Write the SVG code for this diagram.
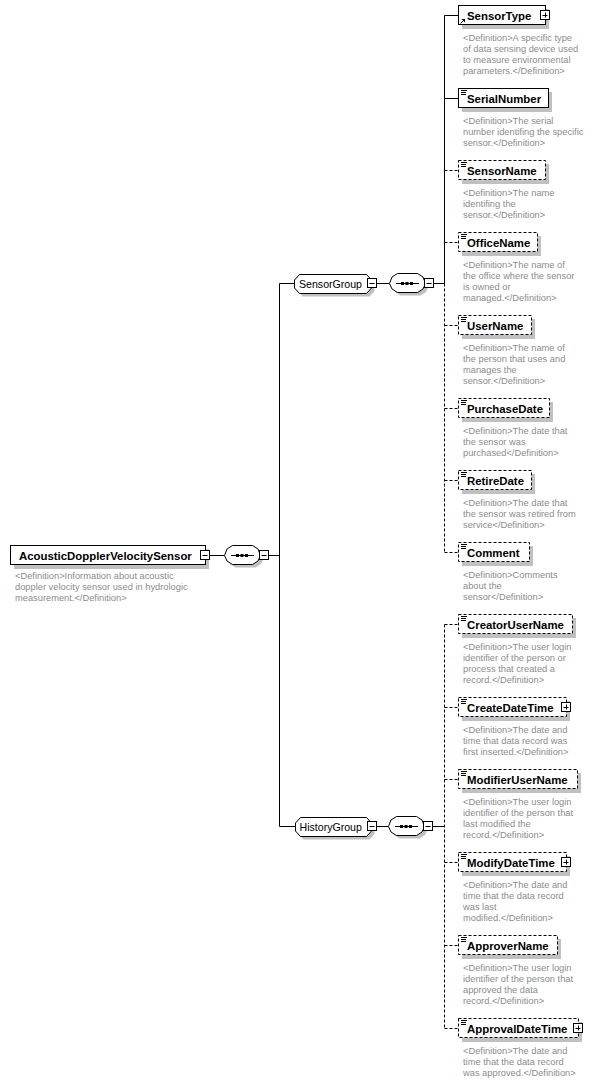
<svg xmlns="http://www.w3.org/2000/svg" xmlns:xlink="http://www.w3.org/1999/xlink" width="593" height="1083" viewBox="0 0 593 1083">
<style>
.bg{fill:#fff}
.box{fill:#fff;stroke:#000;stroke-width:1}
.opt{stroke-dasharray:3 2}
.sh{fill:#c0c0c0}
.lbl{font-family:"Liberation Sans",Arial,sans-serif;font-weight:bold;font-size:11.4px;fill:#000}
.grp{font-family:"Liberation Sans",Arial,sans-serif;font-size:10.6px;fill:#000}
.def{font-family:"Liberation Sans",Arial,sans-serif;font-size:9.3px;fill:#8c8c8c}
.con{stroke:#000;stroke-width:1;fill:none}
.dash{stroke-dasharray:3 2}
.pm{fill:#fff;stroke:#000;stroke-width:1}
.ico{fill:#000}
</style>
<defs>
<g id="minus"><rect class="pm" x="0.5" y="0.5" width="9" height="9"/><path class="con" d="M2.5,5.5 H7.5"/></g>
<g id="plus"><rect class="pm" x="0.5" y="0.5" width="9" height="9"/><path class="con" d="M2.5,5.5 H7.5 M5.5,2.5 V7.5"/></g>
<g id="seq">
<path class="sh" d="M11.5,-6.5 H31.5 L37,-3 L39.5,3.5 L37,9 L31.5,12.5 H11.5 L6,9 L3.5,3.5 L6,-3 Z"/>
<path class="box" d="M8.5,-9.5 H28.5 L34,-6 L36.5,0.5 L34,6 L28.5,9.5 H8.5 L3,6 L0.5,0.5 L3,-6 Z"/>
<path class="con" d="M7,0.5 H30"/>
<rect class="ico" x="12" y="-1" width="3" height="3"/>
<rect class="ico" x="16.5" y="-1" width="3" height="3"/>
<rect class="ico" x="21" y="-1" width="3" height="3"/>
<use xlink:href="#minus" x="35" y="-5"/>
</g>
<g id="sicon"><rect class="ico" x="461" y="0" width="6" height="1"/><rect class="ico" x="461" y="2" width="5" height="1"/><rect class="ico" x="461" y="4" width="5" height="1"/></g>
</defs>
<rect class="bg" x="0" y="0" width="593" height="1083"/>

<g id="connectors">
<path class="con" d="M210,555.5 H224"/>
<path class="con" d="M269,555.5 H279.5"/>
<path class="con" d="M279.5,283.5 V826.5"/>
<path class="con" d="M279.5,283.5 H294"/>
<path class="con" d="M279.5,826.5 H295"/>
<path class="con" d="M376,283.5 H389"/>
<path class="con" d="M376,826.5 H388"/>
<path class="con" d="M434,283.5 H444.5"/>
<path class="con" d="M433,826.5 H444.5"/>
<path class="con" d="M444.5,15.5 V283.5"/>
<path class="con dash" d="M444.5,283.5 V552.5"/>
<path class="con" d="M444.5,15.5 H458"/>
<path class="con" d="M444.5,98.5 H458"/>
<path class="con dash" d="M444.5,170.5 H458"/>
<path class="con dash" d="M444.5,242.5 H458"/>
<path class="con dash" d="M444.5,325.5 H458"/>
<path class="con dash" d="M444.5,408.5 H458"/>
<path class="con dash" d="M444.5,480.5 H458"/>
<path class="con dash" d="M444.5,552.5 H458"/>
<path class="con dash" d="M444.5,624.5 V1028.5"/>
<path class="con dash" d="M444.5,624.5 H458"/>
<path class="con dash" d="M444.5,707.5 H458"/>
<path class="con dash" d="M444.5,779.5 H458"/>
<path class="con dash" d="M444.5,862.5 H458"/>
<path class="con dash" d="M444.5,945.5 H458"/>
<path class="con dash" d="M444.5,1028.5 H458"/>
</g>

<g id="AcousticDopplerVelocitySensor">
<rect class="sh" x="14" y="549" width="195" height="20"/>
<rect class="box" x="10.5" y="545.5" width="195" height="19"/>
<text class="lbl" x="19" y="560">AcousticDopplerVelocitySensor</text>
<use xlink:href="#minus" x="200" y="550"/>
<text class="def" x="15" y="579"><tspan x="15">&lt;Definition&gt;Information about acoustic</tspan><tspan x="15" dy="11">doppler velocity sensor used in hydrologic</tspan><tspan x="15" dy="11">measurement.&lt;/Definition&gt;</tspan></text>
</g>
<g id="seq_root"><use xlink:href="#seq" x="224" y="555"/></g>

<g id="SensorGroup">
<path class="sh" d="M302.5,277.5 H369.5 L374.5,283 V291 L369.5,296.5 H302.5 L297.5,291 V283 Z"/>
<path class="box" d="M299.5,274.5 H366.5 L371.5,280 V288 L366.5,293.5 H299.5 L294.5,288 V280 Z"/>
<text class="grp" x="299" y="287.5">SensorGroup</text>
<use xlink:href="#minus" x="367" y="278"/>
</g>
<g id="seq_sensor"><use xlink:href="#seq" x="389" y="283"/></g>

<g id="HistoryGroup">
<path class="sh" d="M303.5,820.5 H369.5 L374.5,826 V834 L369.5,839.5 H303.5 L298.5,834 V826 Z"/>
<path class="box" d="M300.5,817.5 H366.5 L371.5,823 V831 L366.5,836.5 H300.5 L295.5,831 V823 Z"/>
<text class="grp" x="299.5" y="830.5">HistoryGroup</text>
<use xlink:href="#minus" x="367" y="821"/>
</g>
<g id="seq_history"><use xlink:href="#seq" x="388" y="826"/></g>

<g id="SensorType">
<rect class="sh" x="462" y="9" width="87" height="20"/>
<rect class="box" x="458.5" y="5.5" width="87" height="19"/>
<path class="con" d="M460.5,23.5 L463,21"/>
<polygon class="ico" points="461.5,19 465,19 465,22.5"/>
<text class="lbl" x="467" y="20">SensorType</text>
<use xlink:href="#plus" x="540" y="10"/>
<text class="def" x="463" y="41"><tspan x="463">&lt;Definition&gt;A specific type</tspan><tspan x="463" dy="11">of data sensing device used</tspan><tspan x="463" dy="11">to measure environmental</tspan><tspan x="463" dy="11">parameters.&lt;/Definition&gt;</tspan></text>
</g>

<g id="SerialNumber">
<rect class="sh" x="462" y="92" width="90" height="20"/>
<rect class="box" x="458.5" y="88.5" width="90" height="19"/>
<use xlink:href="#sicon" y="90"/>
<text class="lbl" x="467" y="103">SerialNumber</text>
<text class="def" x="463" y="124"><tspan x="463">&lt;Definition&gt;The serial</tspan><tspan x="463" dy="11">number identifing the specific</tspan><tspan x="463" dy="11">sensor.&lt;/Definition&gt;</tspan></text>
</g>

<g id="SensorName">
<rect class="sh" x="462" y="164" width="87" height="20"/>
<rect class="box opt" x="458.5" y="160.5" width="87" height="19"/>
<use xlink:href="#sicon" y="162"/>
<text class="lbl" x="467" y="175">SensorName</text>
<text class="def" x="463" y="196"><tspan x="463">&lt;Definition&gt;The name</tspan><tspan x="463" dy="11">identifing the</tspan><tspan x="463" dy="11">sensor.&lt;/Definition&gt;</tspan></text>
</g>

<g id="OfficeName">
<rect class="sh" x="462" y="236" width="79" height="20"/>
<rect class="box opt" x="458.5" y="232.5" width="79" height="19"/>
<use xlink:href="#sicon" y="234"/>
<text class="lbl" x="467" y="247">OfficeName</text>
<text class="def" x="463" y="268"><tspan x="463">&lt;Definition&gt;The name of</tspan><tspan x="463" dy="11">the office where the sensor</tspan><tspan x="463" dy="11">is owned or</tspan><tspan x="463" dy="11">managed.&lt;/Definition&gt;</tspan></text>
</g>

<g id="UserName">
<rect class="sh" x="462" y="319" width="73" height="20"/>
<rect class="box opt" x="458.5" y="315.5" width="73" height="19"/>
<use xlink:href="#sicon" y="317"/>
<text class="lbl" x="467" y="330">UserName</text>
<text class="def" x="463" y="351"><tspan x="463">&lt;Definition&gt;The name of</tspan><tspan x="463" dy="11">the person that uses and</tspan><tspan x="463" dy="11">manages the</tspan><tspan x="463" dy="11">sensor.&lt;/Definition&gt;</tspan></text>
</g>

<g id="PurchaseDate">
<rect class="sh" x="462" y="402" width="91" height="20"/>
<rect class="box opt" x="458.5" y="398.5" width="91" height="19"/>
<use xlink:href="#sicon" y="400"/>
<text class="lbl" x="467" y="413">PurchaseDate</text>
<text class="def" x="463" y="434"><tspan x="463">&lt;Definition&gt;The date that</tspan><tspan x="463" dy="11">the sensor was</tspan><tspan x="463" dy="11">purchased&lt;/Definition&gt;</tspan></text>
</g>

<g id="RetireDate">
<rect class="sh" x="462" y="474" width="73" height="20"/>
<rect class="box opt" x="458.5" y="470.5" width="73" height="19"/>
<use xlink:href="#sicon" y="472"/>
<text class="lbl" x="467" y="485">RetireDate</text>
<text class="def" x="463" y="506"><tspan x="463">&lt;Definition&gt;The date that</tspan><tspan x="463" dy="11">the sensor was retired from</tspan><tspan x="463" dy="11">service&lt;/Definition&gt;</tspan></text>
</g>

<g id="Comment">
<rect class="sh" x="462" y="546" width="71" height="20"/>
<rect class="box opt" x="458.5" y="542.5" width="71" height="19"/>
<use xlink:href="#sicon" y="544"/>
<text class="lbl" x="467" y="557">Comment</text>
<text class="def" x="463" y="578"><tspan x="463">&lt;Definition&gt;Comments</tspan><tspan x="463" dy="11">about the</tspan><tspan x="463" dy="11">sensor&lt;/Definition&gt;</tspan></text>
</g>

<g id="CreatorUserName">
<rect class="sh" x="462" y="618" width="114" height="20"/>
<rect class="box opt" x="458.5" y="614.5" width="114" height="19"/>
<use xlink:href="#sicon" y="616"/>
<text class="lbl" x="467" y="629">CreatorUserName</text>
<text class="def" x="463" y="650"><tspan x="463">&lt;Definition&gt;The user login</tspan><tspan x="463" dy="11">identifier of the person or</tspan><tspan x="463" dy="11">process that created a</tspan><tspan x="463" dy="11">record.&lt;/Definition&gt;</tspan></text>
</g>

<g id="CreateDateTime">
<rect class="sh" x="462" y="701" width="108" height="20"/>
<rect class="box opt" x="458.5" y="697.5" width="108" height="19"/>
<use xlink:href="#sicon" y="699"/>
<text class="lbl" x="467" y="712">CreateDateTime</text>
<use xlink:href="#plus" x="561" y="702"/>
<text class="def" x="463" y="733"><tspan x="463">&lt;Definition&gt;The date and</tspan><tspan x="463" dy="11">time that data record was</tspan><tspan x="463" dy="11">first inserted.&lt;/Definition&gt;</tspan></text>
</g>

<g id="ModifierUserName">
<rect class="sh" x="462" y="773" width="119" height="20"/>
<rect class="box opt" x="458.5" y="769.5" width="119" height="19"/>
<use xlink:href="#sicon" y="771"/>
<text class="lbl" x="467" y="784">ModifierUserName</text>
<text class="def" x="463" y="805"><tspan x="463">&lt;Definition&gt;The user login</tspan><tspan x="463" dy="11">identifier of the person that</tspan><tspan x="463" dy="11">last modified the</tspan><tspan x="463" dy="11">record.&lt;/Definition&gt;</tspan></text>
</g>

<g id="ModifyDateTime">
<rect class="sh" x="462" y="856" width="108" height="20"/>
<rect class="box opt" x="458.5" y="852.5" width="108" height="19"/>
<use xlink:href="#sicon" y="854"/>
<text class="lbl" x="467" y="867">ModifyDateTime</text>
<use xlink:href="#plus" x="561" y="857"/>
<text class="def" x="463" y="888"><tspan x="463">&lt;Definition&gt;The date and</tspan><tspan x="463" dy="11">time that the data record</tspan><tspan x="463" dy="11">was last</tspan><tspan x="463" dy="11">modified.&lt;/Definition&gt;</tspan></text>
</g>

<g id="ApproverName">
<rect class="sh" x="462" y="939" width="99" height="20"/>
<rect class="box opt" x="458.5" y="935.5" width="99" height="19"/>
<use xlink:href="#sicon" y="937"/>
<text class="lbl" x="467" y="950">ApproverName</text>
<text class="def" x="463" y="971"><tspan x="463">&lt;Definition&gt;The user login</tspan><tspan x="463" dy="11">identifier of the person that</tspan><tspan x="463" dy="11">approved the data</tspan><tspan x="463" dy="11">record.&lt;/Definition&gt;</tspan></text>
</g>

<g id="ApprovalDateTime">
<rect class="sh" x="462" y="1022" width="120" height="20"/>
<rect class="box opt" x="458.5" y="1018.5" width="120" height="19"/>
<use xlink:href="#sicon" y="1020"/>
<text class="lbl" x="467" y="1033">ApprovalDateTime</text>
<use xlink:href="#plus" x="573" y="1023"/>
<text class="def" x="463" y="1054"><tspan x="463">&lt;Definition&gt;The date and</tspan><tspan x="463" dy="11">time that the data record</tspan><tspan x="463" dy="11">was approved.&lt;/Definition&gt;</tspan></text>
</g>
</svg>
